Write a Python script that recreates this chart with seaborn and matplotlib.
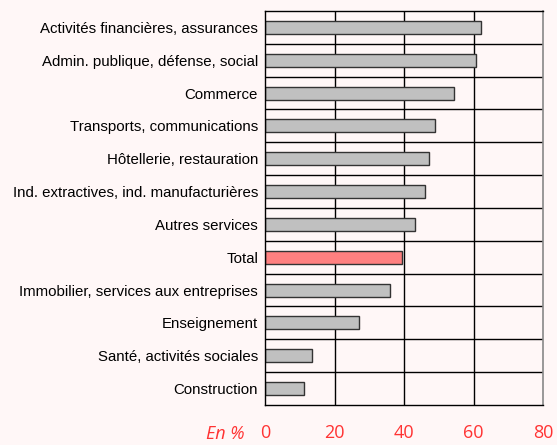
import numpy as np
import pandas as pd
import matplotlib
matplotlib.use("Agg")
from matplotlib import pyplot as plt
import seaborn as sns

secteurs = ["Activités financières, assurances",
            "Admin. publique, défense, social",
            "Commerce",
            "Transports, communications",
            "Hôtellerie, restauration",
            "Ind. extractives, ind. manufacturières",
            "Autres services",
            "Total",
            "Immobilier, services aux entreprises",
            "Enseignement",
            "Santé, activités sociales",
            "Construction"]
valeurs = [62.2, 60.6, 54.4, 48.8, 47.2, 46.0, 43.2, 39.4, 36.0, 27.1, 13.5, 11.3]
ticks = [0, 20, 40, 60, 80]

df = pd.DataFrame({"secteur": secteurs, "valeur": valeurs})
couleurs = {s: ("#ff8080" if s == "Total" else "#c0c0c0") for s in secteurs}

sns.set_style("white")
plt.rcParams["font.family"] = ["Liberation Sans", "DejaVu Sans"]
bg = "#fff7f7"
rouge = "#ff3333"

fig = plt.figure(figsize=(5.57, 4.45), dpi=100, facecolor=bg)
ax = fig.add_axes([0.4758, 0.0899, 0.4991, 0.8854])
ax.set_facecolor(bg)

sns.barplot(data=df, x="valeur", y="secteur", hue="secteur", palette=couleurs,
            legend=False, width=0.4, edgecolor="#333333", linewidth=1.0,
            saturation=1, orient="h", ax=ax)

ax.set_xlim(0, 80)
ax.set_ylim(len(secteurs) - 0.5, -0.5)
ax.set_xticks(ticks)
ax.set_xticklabels([str(t) for t in ticks], color=rouge, fontsize=13,
                   family=["Open Sans", "DejaVu Sans"])
ax.tick_params(axis="x", length=0, pad=14)
ax.tick_params(axis="y", length=0, pad=5, labelsize=10.8, labelcolor="black")
ax.set_xlabel("")
ax.set_ylabel("")

# grid: vertical at 20/40/60, horizontal between categories
for t in ticks[1:-1]:
    ax.axvline(t, color="black", lw=1, zorder=0)
for b in np.arange(0.5, len(secteurs) - 0.5, 1):
    ax.axhline(b, color="black", lw=1, zorder=0)

for side in ["left", "top", "bottom"]:
    ax.spines[side].set_color("black")
    ax.spines[side].set_linewidth(1)
ax.spines["right"].set_color("#888888")
ax.spines["right"].set_linewidth(1.2)

fig.text(0.405, 0.005, "En %", color=rouge, fontsize=13, style="italic",
         family=["Open Sans", "DejaVu Sans"],
         ha="center", va="bottom")

fig.savefig("out.png", dpi=100, facecolor=bg)
